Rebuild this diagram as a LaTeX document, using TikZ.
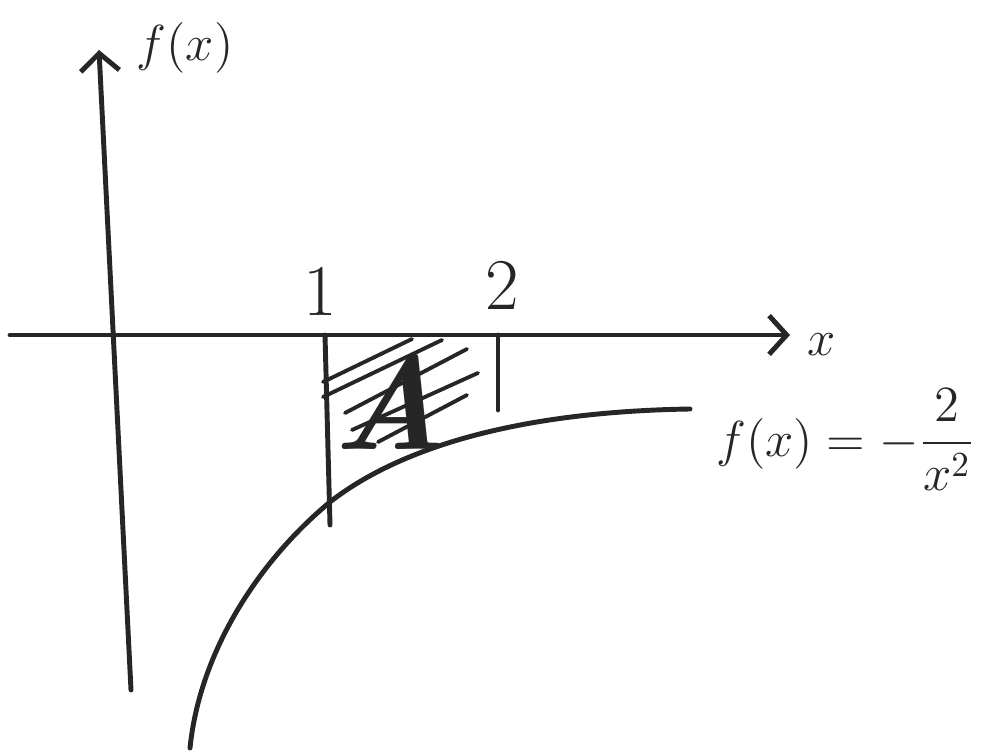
\documentclass[tikz,border=0pt]{standalone}
\usepackage{amsmath,amssymb}
\usepackage{tikz}
\usetikzlibrary{arrows.meta,positioning,calc}

\begin{document}
\begin{tikzpicture}[x=0.01cm, y=-0.01cm, line cap=round, line join=round,
  pen/.style={line width=1.4pt, draw=black!85},
  axis/.style={pen, -{Straight Barb[length=5pt, width=11pt, line width=1.4pt]}},
  lbl/.style={font=\Large, text=black!85, inner sep=1pt}]
\useasboundingbox (0,0) rectangle (985,752);
% axes
\coordinate (ybot) at (131,690);
\coordinate (ytop) at (99,50);
\coordinate (xlft) at (10,335);
\coordinate (xrgt) at (790,335);
\draw[axis] (ybot) -- (ytop);
\draw[axis] (xlft) -- (xrgt);
\node[lbl] (ylab) at (185,48) {$f(x)$};
\node[lbl] (xlab) at (822,345) {$x$};
% ticks and bounds
\coordinate (one) at (325,335);
\coordinate (two) at (498,335);
\node[lbl, font=\huge] (lone) at (320,292) {$1$};
\node[lbl, font=\huge] (ltwo) at (502,286) {$2$};
\draw[pen] (one) -- (330,525);
\draw[pen] (two) -- (498,410);
% curve
\draw[pen] (190,748) .. controls (200,650) and (260,560) .. (330,502)
  .. controls (390,455) and (500,412) .. (690,409);
% hatching
\foreach \a/\b in {{323,382}/{412,339}, {323,397}/{442,340}, {345,413}/{467,349}, {352,430}/{478,373}, {378,442}/{467,395}} {
  \draw[pen, line width=1.1pt] (\a) -- (\b);
}
\node[font=\fontsize{38}{38}\selectfont\bfseries\itshape, text=black!85] (area) at (390,402) {A};
\node[lbl, anchor=west] (func) at (712,440) {$f(x)=-\dfrac{2}{x^2}$};
\end{tikzpicture}
\end{document}
